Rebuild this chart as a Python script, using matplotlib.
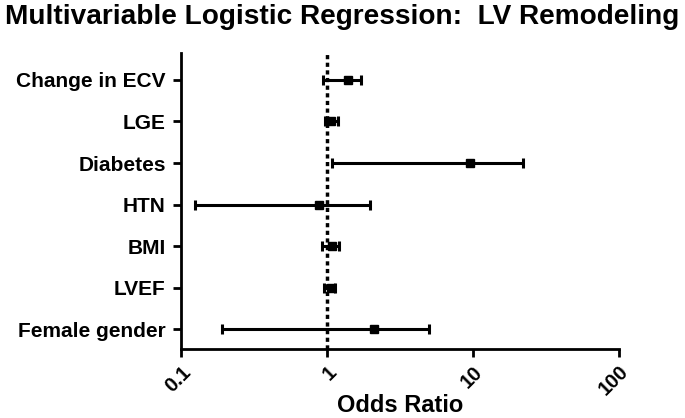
import matplotlib
matplotlib.use("Agg")
import matplotlib.pyplot as plt
import numpy as np

# Odds ratios with 95% CI (top row first)
labels = ["Change in ECV", "LGE", "Diabetes", "HTN", "BMI", "LVEF", "Female gender"]
odds = [1.39, 1.06, 9.6, 0.88, 1.08, 1.07, 2.09]
ci_low = [0.94, 0.97, 1.09, 0.124, 0.93, 0.95, 0.192]
ci_high = [1.70, 1.19, 21.9, 1.98, 1.21, 1.13, 5.02]

plt.rcParams['font.family'] = ['Liberation Sans', 'DejaVu Sans']
plt.rcParams['font.weight'] = 'bold'

fig = plt.figure(figsize=(6.85, 4.18), dpi=100)
ax = fig.add_axes([181/685, 1-349/418, (619-181)/685, (349-53)/418])

ypos = np.arange(len(labels))[::-1]
odds = np.array(odds)
err = [odds - np.array(ci_low), np.array(ci_high) - odds]
ax.errorbar(odds, ypos, xerr=err, fmt='s', color='black', ms=6,
            elinewidth=2.2, capsize=3.5, capthick=2.2)
ax.axvline(1, color='black', lw=2.5, ls=(0, (1.2, 1.0)), zorder=0)

ax.set_xscale('log')
ax.set_xlim(0.1, 100)
ax.set_ylim(-0.48, 6.65)
ax.set_xticks([0.1, 1, 10, 100])
ax.set_xticklabels(['0.1', '1', '10', '100'], rotation=45, ha='right',
                   rotation_mode='anchor', fontsize=14.5, fontweight='bold')
ax.minorticks_off()
ax.set_yticks(ypos)
ax.set_yticklabels(labels, fontsize=15, fontweight='bold')
ax.tick_params(axis='both', width=2, length=6, direction='out')
ax.tick_params(axis='y', pad=5)
for s in ['top', 'right']:
    ax.spines[s].set_visible(False)
for s in ['left', 'bottom']:
    ax.spines[s].set_linewidth(2)

fig.text(400/685, 1-405/418, 'Odds Ratio', ha='center', va='center',
         fontsize=17, fontweight='bold')
fig.text(0.5, 0.99, 'Multivariable Logistic Regression:  LV Remodeling',
         ha='center', va='top', fontsize=20.2, fontweight='bold')

fig.savefig('out.png', dpi=100)
